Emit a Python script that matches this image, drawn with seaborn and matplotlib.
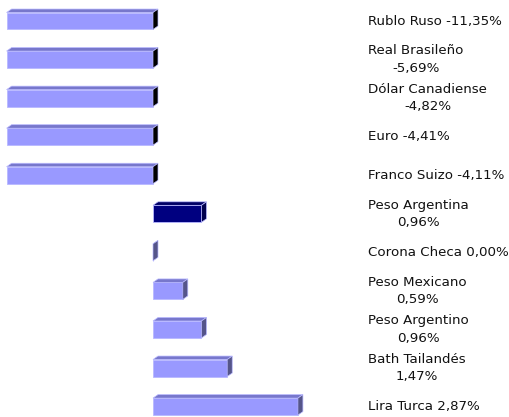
import matplotlib
matplotlib.use("Agg")
import matplotlib.pyplot as plt
import matplotlib.transforms as mtransforms
from matplotlib.patches import Polygon
import seaborn as sns

# =========================================
# DATOS
# =========================================
monedas = ["Rublo Ruso", "Real Brasileño", "Dólar Canadiense", "Euro", "Franco Suizo",
           "Peso Argentina", "Corona Checa", "Peso Mexicano", "Peso Argentino",
           "Bath Tailandés", "Lira Turca"]
variacion = [-11.35, -5.69, -4.82, -4.41, -4.11, 0.96, 0.00, 0.59, 0.96, 1.47, 2.87]
etiquetas = ["Rublo Ruso -11,35%", "Real Brasileño\n-5,69%", "Dólar Canadiense\n-4,82%",
             "Euro -4,41%", "Franco Suizo -4,11%", "Peso Argentina\n0,96%",
             "Corona Checa 0,00%", "Peso Mexicano\n0,59%", "Peso Argentino\n0,96%",
             "Bath Tailandés\n1,47%", "Lira Turca 2,87%"]
destacada = "Peso Argentina"
limite_izq = -2.9   # el eje corta las barras negativas aqui

# colores: frente, tapa, lateral
claro = ("#9999FF", "#7777CC", "#55558A")
oscuro = ("#000080", "#000066", "#00004D")
colores = [oscuro[0] if m == destacada else claro[0] for m in monedas]

# =========================================
# GRAFICO
# =========================================
fig = plt.figure(figsize=(5.1, 4.17), dpi=100)
ax = fig.add_axes([0, 0, 1, 1])

sns.barplot(x=variacion, y=monedas, hue=monedas, palette=colores, orient="h",
            width=0.44, saturation=1, legend=False, ax=ax,
            edgecolor="#B8B8FF", linewidth=0.6)

xmin, xmax = -3.03, 7.07
ymin, ymax = -0.545, 10.27
ax.set_xlim(xmin, xmax)
ax.set_ylim(ymax, ymin)
ax.axis("off")

# profundidad del efecto 3D (en unidades de datos)
dx = 5 / (510 / (xmax - xmin))
dy = 3.5 / (417 / (ymax - ymin))

for cont, m, v in zip(ax.containers, monedas, variacion):
    tono = oscuro if m == destacada else claro
    for bar in cont:
        a = bar.get_x()
        b = a + bar.get_width()
        x0, x1 = max(min(a, b), limite_izq), max(a, b)
        bar.set_x(x0)
        bar.set_width(x1 - x0)
        yt = bar.get_y()
        yb = yt + bar.get_height()
        tapa = Polygon([(x0, yt), (x1, yt), (x1 + dx, yt - dy), (x0 + dx, yt - dy)],
                       closed=True, facecolor=tono[1], edgecolor="#B8B8FF", linewidth=0.5)
        lado_color = "black" if v < 0 else tono[2]
        lado = Polygon([(x1, yt), (x1 + dx, yt - dy), (x1 + dx, yb - dy), (x1, yb)],
                       closed=True, facecolor=lado_color, edgecolor="#B8B8FF", linewidth=0.5)
        ax.add_patch(tapa)
        ax.add_patch(lado)

trans = mtransforms.blended_transform_factory(ax.transAxes, ax.transData)
for i, txt in enumerate(etiquetas):
    ax.text(0.722, i, txt, transform=trans, ha="left", va="center",
            multialignment="center", fontsize=9.6, color="#111111",
            family="DejaVu Sans", linespacing=1.45)

plt.savefig("out.png", dpi=100)
